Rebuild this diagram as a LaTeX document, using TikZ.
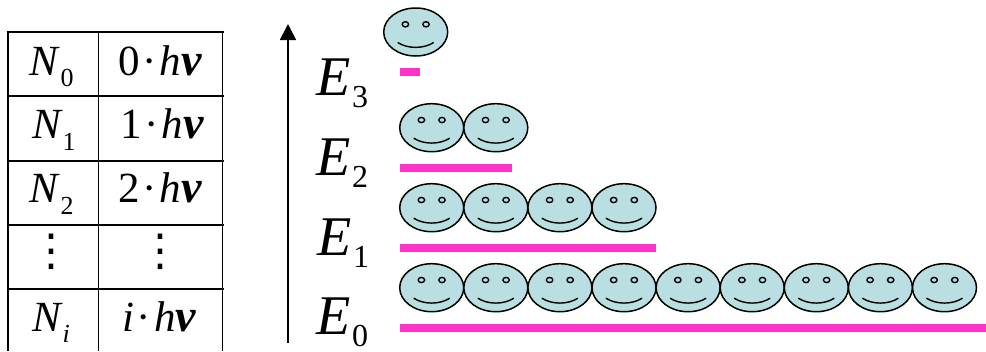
\documentclass[tikz,border=0pt]{standalone}
\usepackage{fontspec}
\setmainfont{Liberation Serif}
\newfontfamily\dotsfont{DejaVu Sans}
\usetikzlibrary{arrows.meta}
\definecolor{facefill}{HTML}{B9DFE3}
\definecolor{barpink}{HTML}{FF33CC}
\newcommand{\sz}[1]{\fontsize{#1}{#1}\selectfont}
\newcommand{\labN}[2]{\sz{43}\textit{N}\raisebox{#2}{\sz{26}#1}}
\newcommand{\labE}[2]{\sz{56}\textit{E}\hspace{2pt}\raisebox{#2}{\sz{32}#1}}
\newcommand{\labH}[1]{\sz{43}#1\hspace{3pt}·\hspace{3pt}\textit{h}{\sz{46}\textbf{\textit{ν}}}}
\tikzset{
  x=1pt,y=-1pt,
  txt/.style={anchor=base west,inner sep=0pt,outer sep=0pt},
  dotstack/.style={anchor=center,inner sep=0pt,font=\dotsfont\fontsize{44}{44}\selectfont},
  grid line/.style={line width=1.6pt,black},
  level bar/.style={fill=barpink,draw=none},
  smiley/.pic={
    \draw[line width=1.5pt,fill=facefill] (0,0) ellipse [x radius=32,y radius=24];
    \draw[line width=1.4pt,fill=facefill] (-10.3,-7.7) ellipse [x radius=3.2,y radius=2.6];
    \draw[line width=1.4pt,fill=facefill] (10.3,-7.7) ellipse [x radius=3.2,y radius=2.6];
    \draw[line width=1.4pt] (-18,10.5) .. controls (-8,17) and (8,17) .. (18,10.5);
  }
}
\begin{document}
\begin{tikzpicture}
\useasboundingbox (0,0) rectangle (986,351);
% table
\foreach \yy in {32,96,160.7,224.7,289}
  \draw[grid line] (6.5,\yy) -- (224,\yy);
\foreach \xx in {8,98.5,222.5}
  \draw[grid line] (\xx,30.5) -- (\xx,351);
\node[txt] (n0) at (30,75) {\labN{0}{-11pt}};
\node[txt] (n1) at (32,138.5) {\labN{1}{-11.5pt}};
\node[txt] (n2) at (30,202.7) {\labN{2}{-11.5pt}};
\node[txt] (ni) at (32,331.7) {\labN{\textit{i}}{-11pt}};
\node[txt] (h0) at (118,75) {\labH{0}};
\node[txt] (h1) at (120,138.5) {\labH{1}};
\node[txt] (h2) at (118,202.7) {\labH{2}};
\node[txt] (hi) at (122,331.7) {\labH{\textit{i}}};
\node[dotstack] (d1) at (52,252) {⋮};
\node[dotstack] (d2) at (160.5,252) {⋮};
% axis
\coordinate (axb) at (288,343);
\coordinate (axt) at (288,24);
\draw[line width=1.8pt,-{Triangle[length=16pt,width=16pt]}] (axb) -- (axt);
% energies
\node[txt] (e3) at (316,95) {\labE{3}{-12pt}};
\node[txt] (e2) at (316,175) {\labE{2}{-12pt}};
\node[txt] (e1) at (317,255) {\labE{1}{-12pt}};
\node[txt] (e0) at (316,334) {\labE{0}{-12pt}};
% bars
\fill[level bar] (400,68) rectangle (420,76);
\fill[level bar] (400,164) rectangle (512,172);
\fill[level bar] (400,244) rectangle (656,252);
\fill[level bar] (400,324) rectangle (986,332);
% faces
\pic at (415.7,32) {smiley};
\foreach \i in {0,1} \pic at ({431.7+64.1*\i},127.7) {smiley};
\foreach \i in {0,...,3} \pic at ({431.7+64.1*\i},207.7) {smiley};
\foreach \i in {0,...,8} \pic at ({431.7+64.1*\i},287.7) {smiley};
\end{tikzpicture}
\end{document}
